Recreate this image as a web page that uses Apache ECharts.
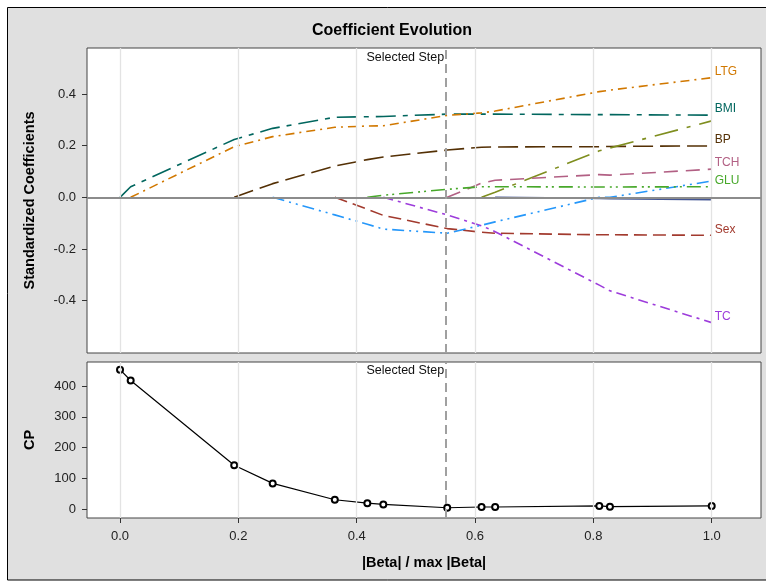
<!DOCTYPE html>
<html><head><meta charset="utf-8">
<script src="https://cdn.jsdelivr.net/npm/echarts@6/dist/echarts.min.js"></script>
<style>html,body{margin:0;padding:0;background:#fff}#c{width:766px;height:581px}</style>
</head><body><div id="c"></div>
<script>
// ---- data ----
const steps = [0, 0.018, 0.193, 0.258, 0.363, 0.418, 0.445, 0.553, 0.611, 0.634, 0.810, 0.828, 1.0];
const selectedStep = 0.553;
const xTicks = [0, 0.2, 0.4, 0.6, 0.8, 1.0];
const coefTicks = [-0.4, -0.2, 0, 0.2, 0.4];
const cpTicks = [0, 100, 200, 300, 400];
const cp = [453, 418, 143, 84, 31, 20, 16, 5, 7.5, 7.5, 11, 8.5, 11];

const AGE = [null, null, null, null, null, null, null, null, null, 0, -0.004, -0.005, -0.009];
const Sex = [null, null, null, null, 0, -0.046, -0.070, -0.121, -0.135, -0.139, -0.145, -0.145, -0.147];
const BMI = [0, 0.041, 0.224, 0.267, 0.310, 0.312, 0.313, 0.322, 0.322, 0.322, 0.320, 0.320, 0.318];
const BP  = [null, null, 0, 0.053, 0.121, 0.146, 0.156, 0.183, 0.194, 0.195, 0.196, 0.197, 0.199];
const TC  = [null, null, null, null, null, null, 0, -0.068, -0.110, -0.133, -0.340, -0.362, -0.485];
const LDL = [null, null, null, null, null, null, null, null, 0, 0.020, 0.180, 0.191, 0.296];
const HDL = [null, null, null, 0, -0.068, -0.104, -0.123, -0.139, -0.108, -0.095, 0, 0, 0.063];
const TCH = [null, null, null, null, null, null, null, 0, 0.055, 0.066, 0.088, 0.086, 0.109];
const LTG = [null, 0, 0.196, 0.235, 0.271, 0.276, 0.277, 0.317, 0.327, 0.334, 0.409, 0.415, 0.463];
const GLU = [null, null, null, null, null, 0, 0.008, 0.031, 0.041, 0.041, 0.040, 0.040, 0.041];

const variables = [
  ['AGE', AGE], ['Sex', Sex], ['BMI', BMI], ['BP', BP], ['TC', TC],
  ['LDL', LDL], ['HDL', HDL], ['TCH', TCH], ['LTG', LTG], ['GLU', GLU]
];

// ---- styles ----
const styles = {
  AGE: {color: '#445694', dash: 'solid', label: false},
  Sex: {color: '#A23A2E', dash: [13, 6], label: true},
  BMI: {color: '#01665E', dash: [20, 7, 5, 7], label: true},
  BP:  {color: '#543005', dash: [20, 7], label: true},
  TC:  {color: '#9D3CDB', dash: [10, 5, 3, 5], label: true},
  LDL: {color: '#7F8E1F', dash: [24, 9, 4, 9], label: false},
  HDL: {color: '#2597FA', dash: [12, 5, 2, 5, 2, 5], label: false},
  TCH: {color: '#B26084', dash: [14, 8], label: true},
  LTG: {color: '#D17800', dash: [9, 5, 2, 5], label: true},
  GLU: {color: '#47A82A', dash: [14, 5, 2, 4, 2, 5], label: true}
};

const FONT = 'Arial, "Liberation Sans", Helvetica, sans-serif';
const xMin = -0.0558, xMax = 1.0833;

function pairs(vals) {
  const out = [];
  vals.forEach((v, i) => { if (v !== null) out.push([steps[i], v]); });
  return out;
}

const series = [];
series.push({
  type: 'line', xAxisIndex: 0, yAxisIndex: 0, data: [[selectedStep, 0]], showSymbol: false,
  lineStyle: {opacity: 0}, silent: true, z: 1, animation: false,
  markLine: {
    silent: true, symbol: 'none', animation: false,
    label: {show: false},
    data: xTicks.map(t => ({xAxis: t, lineStyle: {color: '#e3e3e3', width: 1.3, type: 'solid'}}))
      .concat([{yAxis: 0, lineStyle: {color: '#8c8c8c', width: 1.8, type: 'solid'}}])
  }
});
series.push({
  type: 'line', xAxisIndex: 0, yAxisIndex: 0, data: [[selectedStep, 0]], showSymbol: false,
  lineStyle: {opacity: 0}, silent: true, z: 5, animation: false,
  markLine: {
    silent: true, symbol: 'none', animation: false, label: {show: false},
    data: [{xAxis: selectedStep, lineStyle: {color: '#a0a0a0', width: 2, type: [9, 5]}}]
  }
});
variables.forEach(([name, vals]) => {
  const s = styles[name];
  series.push({
    name, type: 'line', xAxisIndex: 0, yAxisIndex: 0, data: pairs(vals),
    showSymbol: false, symbol: 'none', z: 3, animation: false, clip: true,
    lineStyle: {color: s.color, width: 1.6, type: s.dash},
    endLabel: {
      show: s.label, formatter: name, color: s.color, fontSize: 12, fontFamily: FONT,
      distance: 3, offset: [0, -6]
    }
  });
});
series.push({
  type: 'line', xAxisIndex: 1, yAxisIndex: 1, data: [[selectedStep, 0]], showSymbol: false,
  lineStyle: {opacity: 0}, silent: true, z: 1, animation: false,
  markLine: {
    silent: true, symbol: 'none', animation: false, label: {show: false},
    data: xTicks.map(t => ({xAxis: t, lineStyle: {color: '#e3e3e3', width: 1.3, type: 'solid'}}))
  }
});
series.push({
  type: 'line', xAxisIndex: 1, yAxisIndex: 1, data: [[selectedStep, 0]], showSymbol: false,
  lineStyle: {opacity: 0}, silent: true, z: 2, animation: false,
  markLine: {
    silent: true, symbol: 'none', animation: false, label: {show: false},
    data: [{xAxis: selectedStep, lineStyle: {color: '#a0a0a0', width: 2, type: [9, 5]}}]
  }
});
series.push({
  name: 'CP', type: 'line', xAxisIndex: 1, yAxisIndex: 1,
  data: cp.map((v, i) => [steps[i], v]),
  symbol: 'circle', symbolSize: 6, showSymbol: true, z: 3, animation: false,
  lineStyle: {color: '#000', width: 1.2},
  itemStyle: {color: '#fff', borderColor: '#000', borderWidth: 2}
});

const tickLabel = {color: '#222', fontSize: 13, fontFamily: FONT};
const axisNameStyle = {color: '#000', fontSize: 14.5, fontWeight: 'bold', fontFamily: FONT};
const tickStyle = {color: '#333', width: 1};

const option = {
  animation: false,
  backgroundColor: '#fff',
  title: {
    text: 'Coefficient Evolution', left: 392, top: 23, padding: 0, textAlign: 'center',
    textStyle: {fontSize: 16, fontWeight: 'bold', color: '#000', fontFamily: FONT}
  },
  graphic: [{
    type: 'rect', z: -10, silent: true,
    shape: {x: 7.5, y: 7.5, width: 800, height: 572.5},
    style: {fill: '#e0e0e0', stroke: '#000', lineWidth: 1}
  }],
  grid: [
    {left: 87, top: 48, width: 674, height: 305, show: true, backgroundColor: '#fff',
     borderColor: '#444', borderWidth: 1, containLabel: false, outerBoundsMode: 'none'},
    {left: 87, top: 362, width: 674, height: 156, show: true, backgroundColor: '#fff',
     borderColor: '#444', borderWidth: 1, containLabel: false, outerBoundsMode: 'none'}
  ],
  xAxis: [
    {type: 'value', gridIndex: 0, min: xMin, max: xMax, position: 'bottom',
     axisLine: {show: false, onZero: false}, axisTick: {show: false}, axisLabel: {show: false}, splitLine: {show: false}},
    {type: 'value', gridIndex: 1, min: xMin, max: xMax, position: 'bottom',
     axisLine: {show: false, onZero: false},
     axisTick: {show: true, customValues: xTicks, length: 5, lineStyle: tickStyle},
     axisLabel: Object.assign({customValues: xTicks, margin: 12, formatter: v => v.toFixed(1)}, tickLabel),
     splitLine: {show: false},
     name: '|Beta| / max |Beta|', nameLocation: 'middle', nameGap: 37, nameTextStyle: axisNameStyle}
  ],
  yAxis: [
    {type: 'value', gridIndex: 0, min: -0.6026, max: 0.578, position: 'left',
     axisLine: {show: false, onZero: false},
     axisTick: {show: true, customValues: coefTicks, length: 5, lineStyle: tickStyle},
     axisLabel: Object.assign({customValues: coefTicks, margin: 11, formatter: v => v.toFixed(1)}, tickLabel),
     splitLine: {show: false},
     name: 'Standardized Coefficients', nameLocation: 'middle', nameGap: 50, nameTextStyle: axisNameStyle},
    {type: 'value', gridIndex: 1, min: -28.2, max: 477.9, position: 'left',
     axisLine: {show: false, onZero: false},
     axisTick: {show: true, customValues: cpTicks, length: 5, lineStyle: tickStyle},
     axisLabel: Object.assign({customValues: cpTicks, margin: 11, formatter: v => String(v)}, tickLabel),
     splitLine: {show: false},
     name: 'CP', nameLocation: 'middle', nameGap: 50, nameTextStyle: axisNameStyle}
  ],
  series
};

const chart = echarts.init(document.getElementById('c'), null, {renderer: 'canvas'});
chart.setOption(option);

const topPx = chart.convertToPixel({gridIndex: 0}, [selectedStep, 0.578]);
const botPx = chart.convertToPixel({gridIndex: 1}, [selectedStep, 477.9]);
const g = option.graphic.slice();
[[topPx, 10], [botPx, 9]].forEach(([p, dy]) => {
  g.push({
    type: 'text', z: 10, silent: true, x: p[0] - 3, y: p[1] + dy,
    style: {text: 'Selected Step', fill: '#111', fontSize: 12.5, fontFamily: FONT,
            align: 'right', verticalAlign: 'middle'}
  });
});
chart.setOption({graphic: g});
</script>
</body></html>
